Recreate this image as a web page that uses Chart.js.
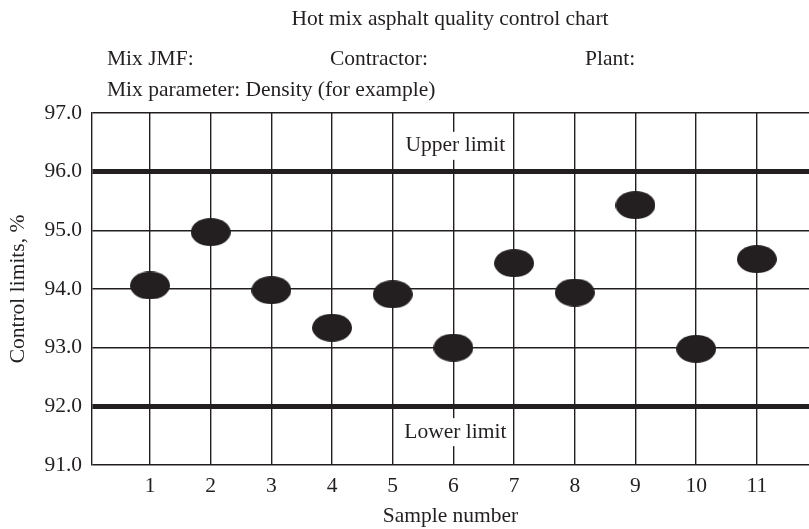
<!DOCTYPE html>
<html>
<head>
<meta charset="utf-8">
<script src="https://cdn.jsdelivr.net/npm/chart.js@4.4.0/dist/chart.umd.min.js"></script>
<style>
  html, body { margin: 0; padding: 0; background: #fff; }
  #wrap { width: 809px; height: 529px; position: relative; }
</style>
</head>
<body>
<div id="wrap"><canvas id="chart" width="809" height="529"></canvas></div>
<script>
// ---- Data ----
const samples = [1, 2, 3, 4, 5, 6, 7, 8, 9, 10, 11];
const density = [94.06, 94.97, 93.98, 93.34, 93.91, 93.0, 94.44, 93.94, 95.43, 92.98, 94.51];
const yTicks = [91, 92, 93, 94, 95, 96, 97];
const upperLimit = 96;
const lowerLimit = 92;

const INK = "#231f20";
const FONT = "'Liberation Serif', 'DejaVu Serif', serif";
const FS = 21.5;

// ellipse marker for the samples
function makeDot(w, h) {
  const c = document.createElement("canvas");
  c.width = w; c.height = h;
  const g = c.getContext("2d");
  g.fillStyle = INK;
  g.beginPath();
  g.ellipse(w / 2, h / 2, w / 2, h / 2, 0, 0, Math.PI * 2);
  g.fill();
  return c;
}
const dot = makeDot(40, 28);

// ---- Header text and limit labels ----
const labelsPlugin = {
  id: "labels",
  afterDraw(chart) {
    const ctx = chart.ctx;
    const x = chart.scales.x, y = chart.scales.y;
    ctx.save();
    ctx.fillStyle = INK;
    ctx.font = FS + "px " + FONT;
    ctx.textBaseline = "middle";
    ctx.textAlign = "center";
    ctx.fillText("Hot mix asphalt quality control chart", 450, 19);
    ctx.textAlign = "left";
    ctx.fillText("Mix JMF:", 107, 59);
    ctx.fillText("Contractor:", 330, 59);
    ctx.fillText("Plant:", 585, 59);
    ctx.fillText("Mix parameter: Density (for example)", 107, 90);

    // limit labels with a white box behind them
    const lims = [["Upper limit", upperLimit + 0.44], ["Lower limit", lowerLimit - 0.44]];
    ctx.textAlign = "center";
    lims.forEach(([txt, v]) => {
      const px = x.getPixelForValue(6) + 2;
      const py = y.getPixelForValue(v);
      const w = ctx.measureText(txt).width;
      ctx.fillStyle = "#fff";
      ctx.fillRect(px - w / 2 - 3, py - 14, w + 6, 28);
      ctx.fillStyle = INK;
      ctx.fillText(txt, px, py);
    });
    ctx.restore();
  }
};

new Chart(document.getElementById("chart").getContext("2d"), {
  type: "scatter",
  data: {
    datasets: [{
      label: "Density",
      data: samples.map((s, i) => ({ x: s, y: density[i] })),
      pointStyle: dot,
      pointRadius: 20,
      showLine: false
    }]
  },
  options: {
    responsive: false,
    animation: false,
    layout: { autoPadding: false, padding: { top: 113, right: 0, left: 0, bottom: 0 } },
    plugins: {
      legend: { display: false },
      tooltip: { enabled: false }
    },
    scales: {
      x: {
        type: "linear",
        min: 0.044,
        max: 11.86,
        afterBuildTicks: s => { s.ticks = samples.map(v => ({ value: v })); },
        afterFit: s => { s.height = 64; },
        grid: {
          color: INK,
          lineWidth: 1.4,
          drawTicks: false
        },
        border: { display: false },
        ticks: {
          color: INK,
          padding: 8,
          font: { family: FONT, size: FS },
          callback: v => String(v)
        },
        title: {
          display: true,
          text: "Sample number",
          color: INK,
          font: { family: FONT, size: FS },
          padding: { top: 4, bottom: 0 }
        }
      },
      y: {
        min: 91,
        max: 97,
        afterBuildTicks: s => { s.ticks = yTicks.map(v => ({ value: v })); },
        afterFit: s => { s.width = 92; },
        grid: {
          color: INK,
          lineWidth: c => (c.tick && (c.tick.value === upperLimit || c.tick.value === lowerLimit)) ? 5 : 1.4,
          drawTicks: false
        },
        border: { display: true, color: INK, width: 1.4 },
        ticks: {
          color: INK,
          padding: 10,
          font: { family: FONT, size: FS },
          callback: v => Number(v).toFixed(1)
        },
        title: {
          display: true,
          text: "Control limits, %",
          color: INK,
          font: { family: FONT, size: FS },
          padding: { top: 5, bottom: 4 }
        }
      }
    }
  },
  plugins: [labelsPlugin]
});
</script>
</body>
</html>
